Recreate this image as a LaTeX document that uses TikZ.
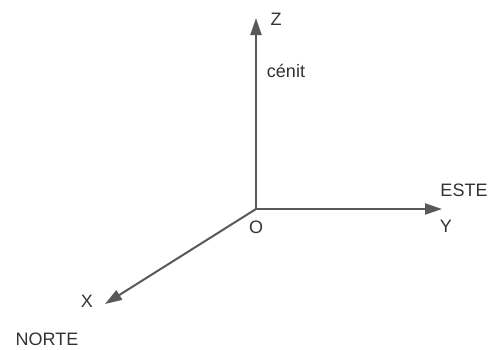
\documentclass[tikz,border=0pt]{standalone}
\usepackage{fontspec}
\setmainfont{Liberation Sans}
\usetikzlibrary{arrows.meta}
\definecolor{axisgray}{HTML}{595959}
\definecolor{labelgray}{HTML}{333333}

\begin{document}
\begin{tikzpicture}[x=1pt,y=-1pt,>={Triangle[length=17pt,width=11pt]},
  axis/.style={->,draw=axisgray,line width=2pt},
  lbl/.style={text=labelgray,inner sep=0pt,font=\fontsize{18}{21}\selectfont}]
  \useasboundingbox (0,0) rectangle (491,349);
  \coordinate (o) at (256,209);
  \coordinate (z) at (256,18);
  \coordinate (y) at (442,209);
  \coordinate (x) at (105,304);
  \draw[axis] (o) -- (z);
  \draw[axis] (o) -- (y);
  \draw[axis] (o) -- (x);
  \node (zl) [lbl] at (276,19) {Z};
  \node (cenit) [lbl] at (286,71) {cénit};
  \node (este) [lbl] at (464,190) {ESTE};
  \node (yl) [lbl] at (446,226) {Y};
  \node (ol) [lbl] at (256,227) {O};
  \node (xl) [lbl] at (87,301) {X};
  \node (norte) [lbl] at (47,339) {NORTE};
\end{tikzpicture}
\end{document}
